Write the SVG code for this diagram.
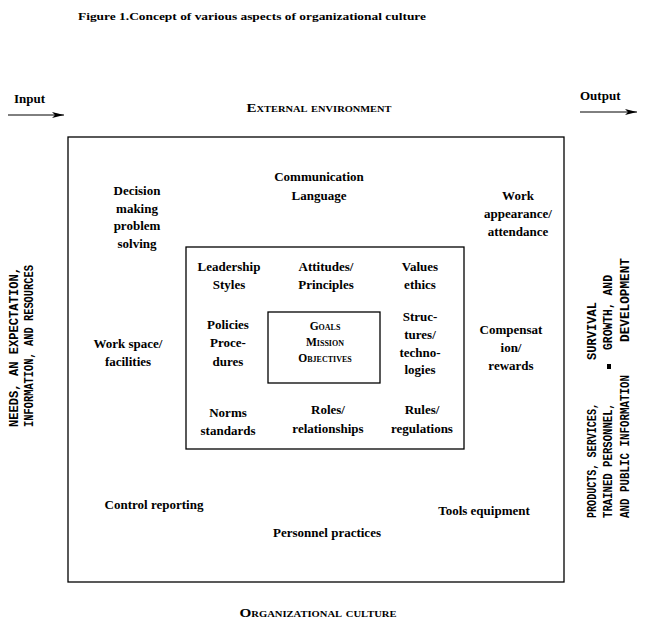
<svg xmlns="http://www.w3.org/2000/svg" width="669" height="633" viewBox="0 0 669 633">
<style>
.t{font-family:"Liberation Serif","Times New Roman",serif;font-weight:bold;font-size:13px;fill:#000;text-anchor:middle}
.sc{font-family:"Liberation Serif","Times New Roman",serif;font-weight:bold;font-size:11.5px;font-variant:small-caps;fill:#000;text-anchor:middle}
.m{font-family:"Liberation Mono","Courier New",monospace;font-weight:bold;font-size:12.5px;fill:#000}
.box{fill:none;stroke:#000;stroke-width:1.3}
.arr{stroke:#000;stroke-width:1;fill:none}
</style>
<defs>
<marker id="ah" viewBox="0 0 12 6" refX="12" refY="3" markerWidth="12" markerHeight="6" markerUnits="userSpaceOnUse" orient="auto">
<path d="M0,0 L12,3 L0,6 L3,3 Z" fill="#000"/>
</marker>
</defs>
<rect width="669" height="633" fill="#fff"/>
<text x="78" y="20" class="t" style="text-anchor:start;font-size:11px" textLength="348" lengthAdjust="spacingAndGlyphs">Figure 1.Concept  of various  aspects of organizational  culture</text>

<g id="input">
<text x="14" y="103" class="t" style="text-anchor:start">Input</text>
</g>
<g id="output">
<text x="580" y="100" class="t" style="text-anchor:start">Output</text>
</g>
<g id="connectors">
<line x1="8" y1="115" x2="64" y2="115" class="arr" marker-end="url(#ah)"/>
<line x1="580" y1="112" x2="637" y2="112" class="arr" marker-end="url(#ah)"/>
</g>

<g id="external">
<text x="319" y="112" class="sc" textLength="145" lengthAdjust="spacingAndGlyphs">External environment</text>
</g>

<g id="outer-box">
<rect x="68" y="137" width="496" height="445" class="box"/>
</g>
<g id="inner-box">
<rect x="186" y="247" width="278" height="202" class="box"/>
</g>
<g id="center-box">
<rect x="268" y="312" width="112" height="71" class="box"/>
<text x="325" y="330" class="sc">Goals</text>
<text x="325" y="346" class="sc">Mission</text>
<text x="325" y="362" class="sc">Objectives</text>
</g>

<g id="communication">
<text x="319" y="181" class="t">Communication</text>
<text x="319" y="200" class="t">Language</text>
</g>
<g id="decision">
<text x="137" y="195" class="t">Decision</text>
<text x="137" y="213" class="t">making</text>
<text x="137" y="230" class="t">problem</text>
<text x="137" y="248" class="t">solving</text>
</g>
<g id="work-appearance">
<text x="518" y="200" class="t">Work</text>
<text x="518" y="218" class="t">appearance/</text>
<text x="518" y="236" class="t">attendance</text>
</g>
<g id="work-space">
<text x="128" y="348" class="t">Work space/</text>
<text x="128" y="366" class="t">facilities</text>
</g>
<g id="compensation">
<text x="511" y="334" class="t">Compensat</text>
<text x="511" y="352" class="t">ion/</text>
<text x="511" y="370" class="t">rewards</text>
</g>

<g id="leadership">
<text x="229" y="271" class="t">Leadership</text>
<text x="229" y="289" class="t">Styles</text>
</g>
<g id="attitudes">
<text x="326" y="271" class="t">Attitudes/</text>
<text x="326" y="289" class="t">Principles</text>
</g>
<g id="values">
<text x="420" y="271" class="t">Values</text>
<text x="420" y="289" class="t">ethics</text>
</g>
<g id="policies">
<text x="228" y="329" class="t">Policies</text>
<text x="228" y="347" class="t">Proce-</text>
<text x="228" y="366" class="t">dures</text>
</g>
<g id="structures">
<text x="420" y="321" class="t">Struc-</text>
<text x="420" y="339" class="t">tures/</text>
<text x="420" y="357" class="t">techno-</text>
<text x="420" y="374" class="t">logies</text>
</g>
<g id="norms">
<text x="228" y="417" class="t">Norms</text>
<text x="228" y="435" class="t">standards</text>
</g>
<g id="roles">
<text x="328" y="414" class="t">Roles/</text>
<text x="328" y="433" class="t">relationships</text>
</g>
<g id="rules">
<text x="422" y="414" class="t">Rules/</text>
<text x="422" y="433" class="t">regulations</text>
</g>

<g id="control">
<text x="154" y="509" class="t">Control reporting</text>
</g>
<g id="tools">
<text x="484" y="515" class="t">Tools equipment</text>
</g>
<g id="personnel">
<text x="327" y="537" class="t">Personnel practices</text>
</g>

<g id="organizational-culture">
<text x="318" y="617" class="sc" textLength="157" lengthAdjust="spacingAndGlyphs">Organizational culture</text>
</g>

<g id="inputs-text">
<text class="m" transform="translate(18,427) rotate(-90)" textLength="160" lengthAdjust="spacingAndGlyphs">NEEDS, AN EXPECTATION,</text>
<text class="m" transform="translate(32.5,427) rotate(-90)" textLength="162" lengthAdjust="spacingAndGlyphs">INFORMATION, AND RESOURCES</text>
</g>
<g id="outputs-text">
<text class="m" transform="translate(595.5,518) rotate(-90)" textLength="115" lengthAdjust="spacingAndGlyphs">PRODUCTS, SERVICES,</text>
<text class="m" transform="translate(612,518) rotate(-90)" textLength="115" lengthAdjust="spacingAndGlyphs">TRAINED PERSONNEL,</text>
<text class="m" transform="translate(628.5,518) rotate(-90)" textLength="143" lengthAdjust="spacingAndGlyphs">AND PUBLIC INFORMATION</text>
<rect x="607" y="364" width="4" height="5" fill="#000"/>
<text class="m" transform="translate(595.5,360) rotate(-90)" textLength="58" lengthAdjust="spacingAndGlyphs">SURVIVAL</text>
<text class="m" transform="translate(612,350) rotate(-90)" textLength="75" lengthAdjust="spacingAndGlyphs">GROWTH, AND</text>
<text class="m" transform="translate(628.5,342) rotate(-90)" textLength="84" lengthAdjust="spacingAndGlyphs">DEVELOPMENT</text>
</g>
</svg>
